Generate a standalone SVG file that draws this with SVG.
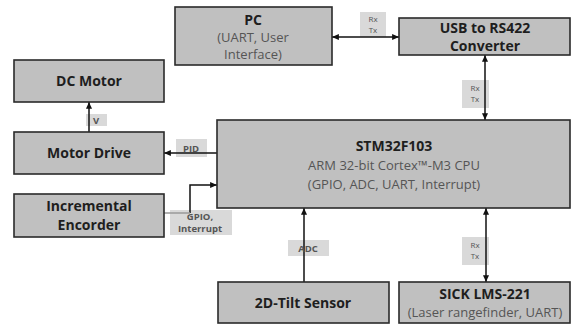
<svg xmlns="http://www.w3.org/2000/svg" width="574" height="327" viewBox="0 0 574 327">
<defs>
<style>
.box{fill:#c0c0c0;stroke:#2a2a2a;stroke-width:1.6}
.t{font-family:"Open Sans","Noto Sans",sans-serif;font-weight:bold;font-size:14px;fill:#1e1e1e;text-anchor:middle}
.s{font-family:"Open Sans","Noto Sans",sans-serif;font-size:13px;fill:#555;text-anchor:middle}
.ln{fill:none;stroke:#111;stroke-width:1.5}
.lb{fill:#d9d9d9}
.lt{font-family:"Open Sans","Noto Sans",sans-serif;font-size:8px;fill:#555;text-anchor:middle}
.lt2{font-family:"Open Sans","Noto Sans",sans-serif;font-size:9.5px;font-weight:bold;fill:#555;text-anchor:middle}
</style>
<marker id="ah" viewBox="0 0 8 7" refX="8" refY="3.5" markerWidth="7" markerHeight="6" markerUnits="userSpaceOnUse" orient="auto-start-reverse">
<path d="M0,0 L8,3.5 L0,7 z" fill="#111"/>
</marker>
</defs>
<rect width="574" height="327" fill="#fff"/>

<g id="labels">
<rect class="lb" x="360" y="12" width="26" height="25"/>
<rect class="lb" x="462" y="80" width="27" height="28"/>
<rect class="lb" x="86" y="114" width="21" height="12"/>
<rect class="lb" x="176" y="139" width="31" height="18"/>
<rect class="lb" x="170" y="210" width="62" height="25"/>
<rect class="lb" x="288" y="240" width="41" height="16"/>
<rect class="lb" x="462" y="237" width="27" height="28"/>
</g>

<g id="connectors">
<line class="ln" x1="332" y1="37" x2="399" y2="37" marker-start="url(#ah)" marker-end="url(#ah)"/>
<line class="ln" x1="485" y1="55" x2="485" y2="120" marker-start="url(#ah)" marker-end="url(#ah)"/>
<line class="ln" x1="89" y1="132" x2="89" y2="102" marker-end="url(#ah)"/>
<line class="ln" x1="217" y1="153" x2="164" y2="153" marker-end="url(#ah)"/>
<path class="ln" d="M190,213 V185 H217" marker-end="url(#ah)"/>
<line x1="164" y1="213" x2="190" y2="213" stroke="#999" stroke-width="1.5"/>
<line class="ln" x1="304" y1="282" x2="304" y2="208" marker-end="url(#ah)"/>
<line class="ln" x1="486" y1="208" x2="486" y2="282" marker-start="url(#ah)" marker-end="url(#ah)"/>
</g>

<g id="label-texts">
<text class="lt" x="373" y="22">Rx</text>
<text class="lt" x="373" y="33">Tx</text>
<text class="lt" x="475" y="91">Rx</text>
<text class="lt" x="475" y="102">Tx</text>
<text class="lt2" x="96" y="124">V</text>
<text class="lt2" x="191" y="152">PID</text>
<text class="lt2" x="200" y="220" font-size="9">GPIO,</text>
<text class="lt2" x="200" y="232" font-size="9">Interrupt</text>
<text class="lt2" x="308" y="252">ADC</text>
<text class="lt" x="475" y="248">Rx</text>
<text class="lt" x="475" y="259">Tx</text>
</g>

<g id="pc">
<rect class="box" x="175" y="7" width="157" height="58"/>
<text class="t" x="253" y="25">PC</text>
<text class="s" x="253" y="42">(UART, User</text>
<text class="s" x="253" y="59">Interface)</text>
</g>

<g id="usb">
<rect class="box" x="399" y="18" width="171" height="37"/>
<text class="t" x="485" y="33" font-size="13.5">USB to RS422</text>
<text class="t" x="485" y="51" font-size="13.5">Converter</text>
</g>

<g id="dcmotor">
<rect class="box" x="14" y="60" width="150" height="42"/>
<text class="t" x="89" y="86">DC Motor</text>
</g>

<g id="motordrive">
<rect class="box" x="14" y="132" width="150" height="42"/>
<text class="t" x="89" y="158">Motor Drive</text>
</g>

<g id="encoder">
<rect class="box" x="14" y="194" width="150" height="43"/>
<text class="t" x="89" y="211">Incremental</text>
<text class="t" x="89" y="230">Encorder</text>
</g>

<g id="stm">
<rect class="box" x="217" y="120" width="353" height="88"/>
<text class="t" x="394" y="151">STM32F103</text>
<text class="s" x="394" y="170" font-size="14">ARM 32-bit Cortex™-M3 CPU</text>
<text class="s" x="394" y="189" font-size="14">(GPIO, ADC, UART, Interrupt)</text>
</g>

<g id="tilt">
<rect class="box" x="218" y="282" width="171" height="41"/>
<text class="t" x="303" y="308">2D-Tilt Sensor</text>
</g>

<g id="sick">
<rect class="box" x="399" y="282" width="171" height="41"/>
<text class="t" x="485" y="299" font-size="13">SICK LMS-221</text>
<text class="s" x="485" y="317" font-size="12">(Laser rangefinder, UART)</text>
</g>
</svg>
